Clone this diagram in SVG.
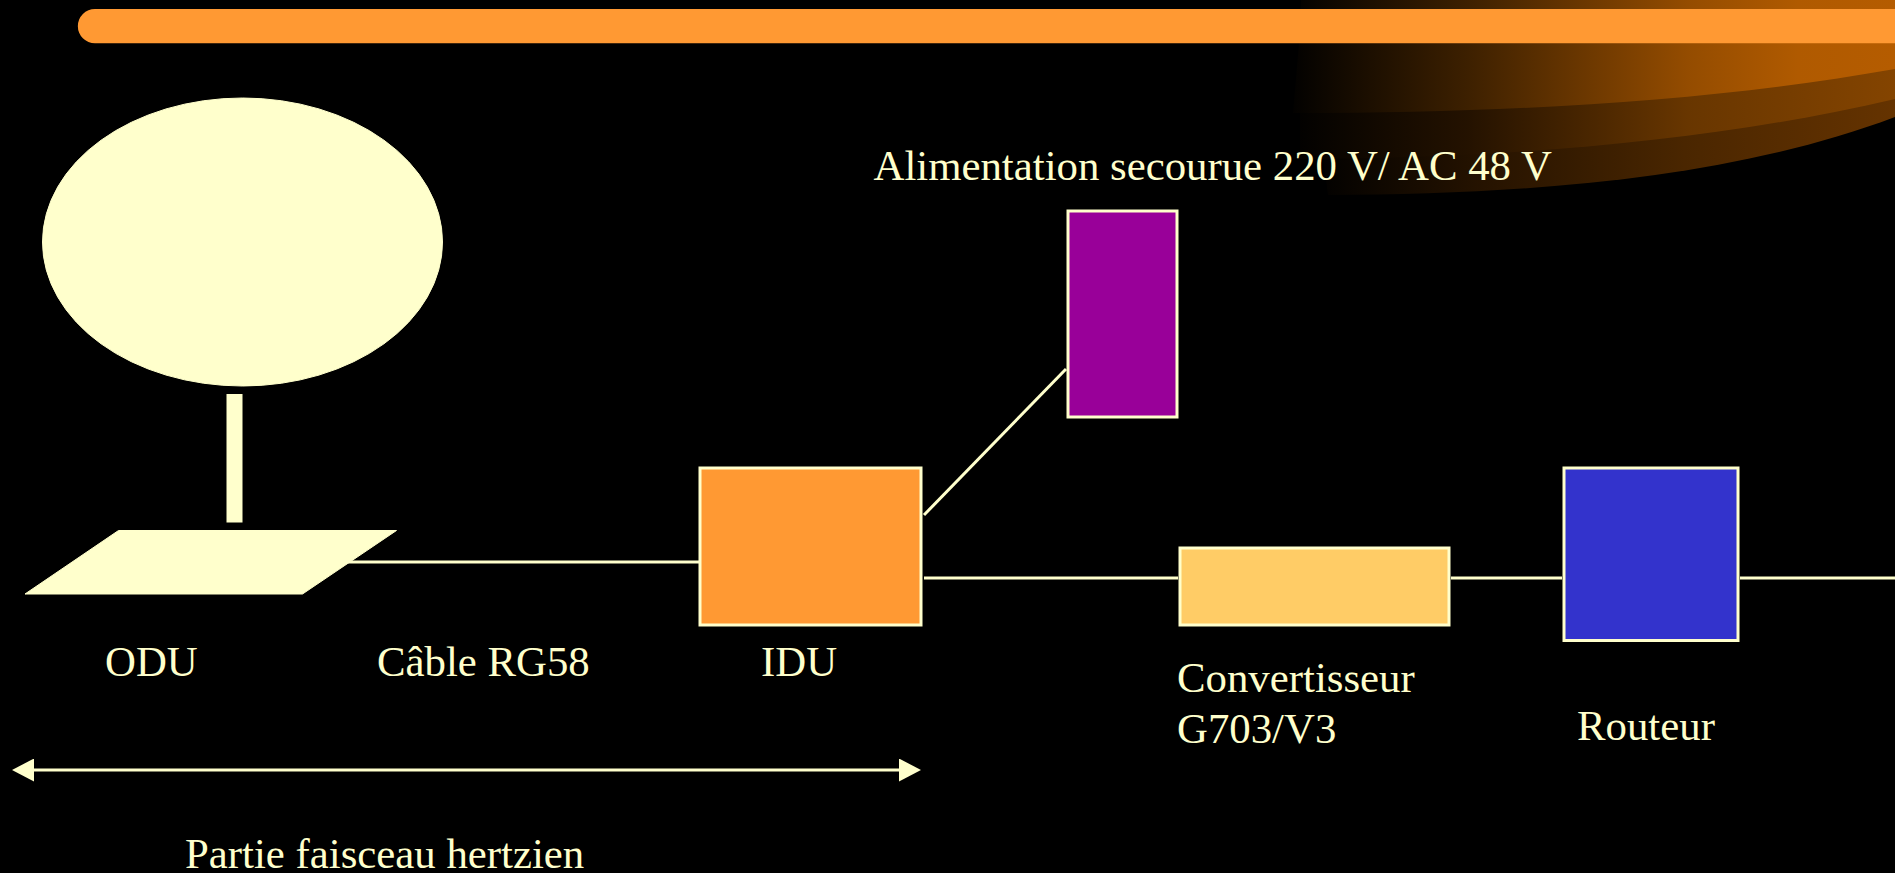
<svg xmlns="http://www.w3.org/2000/svg" width="1895" height="873" viewBox="0 0 1895 873">
<style>
text{font-family:"Liberation Serif","Times New Roman",serif;font-size:42.8px;fill:#FFFFCC}
.box{stroke:#FFFFCC;stroke-width:3}
.solid{fill:#FFFFCC;stroke:#FFFFCC;stroke-width:1}
.wire{fill:none;stroke:#FFFFCC;stroke-width:3}
</style>
<defs>
<linearGradient id="g1" gradientUnits="userSpaceOnUse" x1="1285" y1="0" x2="1895" y2="0"><stop offset="0" stop-color="#000"/><stop offset="0.3" stop-color="#3d2000"/><stop offset="0.66" stop-color="#944c00"/><stop offset="0.84" stop-color="#b05a00"/><stop offset="1" stop-color="#b55c00"/></linearGradient>
<linearGradient id="g2" gradientUnits="userSpaceOnUse" x1="1285" y1="0" x2="1895" y2="0"><stop offset="0" stop-color="#000"/><stop offset="0.3" stop-color="#241200"/><stop offset="0.66" stop-color="#683600"/><stop offset="1" stop-color="#844400"/></linearGradient>
<linearGradient id="g3" gradientUnits="userSpaceOnUse" x1="1310" y1="0" x2="1895" y2="0"><stop offset="0" stop-color="#000"/><stop offset="0.28" stop-color="#241200"/><stop offset="0.64" stop-color="#4a2600"/><stop offset="1" stop-color="#653300"/></linearGradient>
<marker id="ah" viewBox="0 0 22 23" refX="0" refY="11.5" markerWidth="22" markerHeight="23" markerUnits="userSpaceOnUse" orient="auto-start-reverse"><path d="M0 0L22 11.500L0 23Z" fill="#FFFFCC"/></marker>
</defs>
<rect width="1895" height="873" fill="#000"/>
<g id="swoosh">
<path d="M1328 195C1530 194 1730 179 1895 117V60H1310Z" fill="url(#g3)"/>
<path d="M1300 159C1520 158 1720 140 1895 99V60H1300Z" fill="url(#g2)"/>
<path d="M1301 0H1895V69C1720 100 1520 113 1293 113L1299 43Z" fill="url(#g1)"/>
</g>
<path id="top-bar" d="M1895 9H95A17 17 0 0 0 95 43.300H1895Z" fill="#FF9933"/>
<g id="connectors">
<line class="wire" x1="348" y1="562" x2="700" y2="562"/>
<line class="wire" x1="924" y1="515" x2="1066" y2="369"/>
<line class="wire" x1="924" y1="578" x2="1178" y2="578"/>
<line class="wire" x1="1451" y1="578" x2="1562" y2="578"/>
<line class="wire" x1="1740" y1="578" x2="1895" y2="578"/>
<line class="wire" x1="34" y1="770" x2="899" y2="770" marker-start="url(#ah)" marker-end="url(#ah)"/>
</g>
<g id="dish"><ellipse class="solid" cx="242.500" cy="242" rx="200" ry="144"/></g>
<g id="mast"><rect class="solid" x="227" y="394.500" width="15" height="127.500"/></g>
<g id="odu"><path class="solid" d="M118.500 530.500H396.500L302.500 594H25Z"/><text x="105" y="676">ODU</text></g>
<g id="cable"><text x="377" y="676">Câble RG58</text></g>
<g id="idu"><rect class="box" x="700" y="468" width="221" height="157" fill="#FF9933"/><text x="761" y="676">IDU</text></g>
<g id="alim"><rect class="box" x="1068" y="211" width="109" height="206" fill="#990099"/><text x="873.500" y="180">Alimentation secourue 220 V/ AC 48 V</text></g>
<g id="convertisseur"><rect class="box" x="1180" y="548" width="269" height="77" fill="#FFCC66"/><text x="1177" y="692">Convertisseur</text><text x="1177" y="743">G703/V3</text></g>
<g id="routeur"><rect class="box" x="1564" y="468" width="174" height="172.500" fill="#3333CC"/><text x="1577" y="740">Routeur</text></g>
<g id="partie"><text x="185" y="868">Partie faisceau hertzien</text></g>
</svg>
